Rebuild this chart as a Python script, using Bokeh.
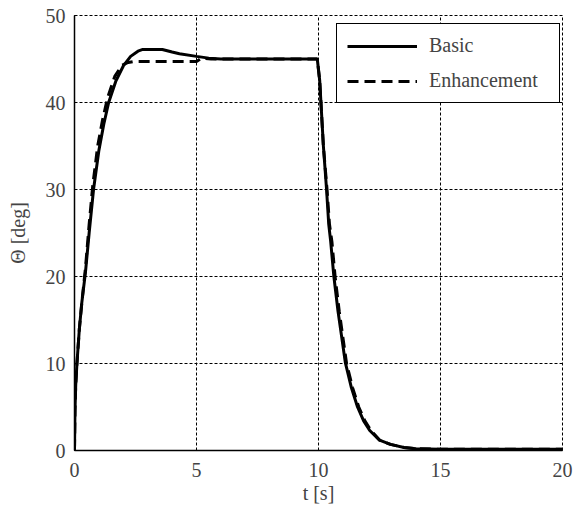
from bokeh.plotting import figure
from bokeh.models import Range1d, FixedTicker
from bokeh.embed import file_html
from bokeh.resources import INLINE

# Step response: pitch angle Theta over time for the two controllers
t_basic = [0, 0.02, 0.05, 0.1, 0.2, 0.3, 0.45, 0.6, 0.78, 1.0, 1.2, 1.4, 1.7, 2.0,
           2.3, 2.6, 2.8, 3.0, 3.6, 4.0, 4.3, 5.0, 5.5, 6.0, 8.0, 9.95, 10.05, 10.1,
           10.2, 10.33, 10.42, 10.5, 10.63, 10.8, 11.1, 11.35, 11.6, 11.85, 12.1,
           12.5, 12.95, 13.5, 14.0, 15.0, 20.0]
theta_basic = [0, 4.6, 7.5, 10, 14, 17, 20.5, 25, 30, 34.5, 37.5, 40, 42.5, 44.2,
               45.3, 45.9, 46.1, 46.1, 46.1, 45.8, 45.6, 45.3, 45.1, 45.0, 45.0, 45.0,
               42.5, 40, 35, 30, 26, 24, 20, 16, 10.1, 7.2, 5, 3.4, 2.3,
               1.2, 0.7, 0.35, 0.2, 0.15, 0.15]

t_enh = [0, 0.02, 0.05, 0.1, 0.2, 0.3, 0.45, 0.6, 0.75, 0.95, 1.15, 1.35, 1.65, 1.95,
         2.2, 2.4, 5.0, 5.2, 5.6, 9.95, 10.05, 10.1, 10.2, 10.35, 10.45, 10.55, 10.68,
         10.85, 11.15, 11.4, 11.65, 11.9, 12.15, 12.5, 12.95, 13.5, 14.0, 15.0, 20.0]
theta_enh = [0, 4.6, 7.5, 10, 14, 17, 21, 26, 30.5, 35, 38, 40.5, 43, 44.3,
             44.6, 44.7, 44.7, 45.1, 45.0, 45.0, 42.5, 40, 35, 30, 26, 24, 20,
             16, 10, 7.2, 5, 3.4, 2.3, 1.2, 0.7, 0.35, 0.2, 0.15, 0.15]

x_ticks = [0, 5, 10, 15, 20]
y_ticks = [0, 10, 20, 30, 40, 50]

F = "Liberation Serif"

p = figure(width=579, height=513, output_backend="svg", toolbar_location=None,
           x_range=Range1d(0, 20), y_range=Range1d(0, 50),
           min_border_left=74, min_border_right=17, min_border_top=15,
           min_border_bottom=63)

p.line(t_basic, theta_basic, line_color="black", line_width=3, legend_label="Basic")
p.line(t_enh, theta_enh, line_color="black", line_width=3, line_dash="11 6",
       legend_label="Enhancement")

# serif faces for all texts
p.axis.major_label_text_font = F
p.axis.axis_label_text_font = F
p.legend.label_text_font = F

p.xaxis.axis_label = "t [s]"
p.yaxis.axis_label = "Θ [deg]"
p.axis.axis_label_text_font_style = "normal"
p.axis.axis_label_text_font_size = "20px"
p.axis.major_label_text_font_size = "20px"

p.xaxis.ticker = FixedTicker(ticks=x_ticks)
p.yaxis.ticker = FixedTicker(ticks=y_ticks)

p.axis.axis_line_color = "black"
p.axis.axis_line_width = 1.5
p.axis.major_tick_out = 0
p.axis.minor_tick_in = 0
p.axis.minor_tick_out = 0

p.xaxis.major_label_standoff = 12
p.xaxis.axis_label_standoff = 2
p.yaxis.major_label_standoff = 9
p.yaxis.axis_label_standoff = 14

p.outline_line_color = "black"
p.outline_line_dash = "3 2"
p.outline_line_width = 1

p.grid.grid_line_color = "black"
p.grid.grid_line_dash = "3 2"
p.grid.grid_line_width = 1
p.grid.grid_line_alpha = 1.0

p.legend.location = (262, 347)
p.legend.label_text_font_size = "20px"
p.legend.border_line_color = "black"
p.legend.border_line_width = 1.5
p.legend.border_line_alpha = 1.0
p.legend.background_fill_color = "white"
p.legend.background_fill_alpha = 1.0
p.legend.padding = 10
p.legend.margin = 0
p.legend.glyph_width = 70
p.legend.glyph_height = 22
p.legend.label_height = 22
p.legend.label_width = 120
p.legend.label_standoff = 12
p.legend.spacing = 12

open("out.html", "w").write(file_html(p, INLINE))
